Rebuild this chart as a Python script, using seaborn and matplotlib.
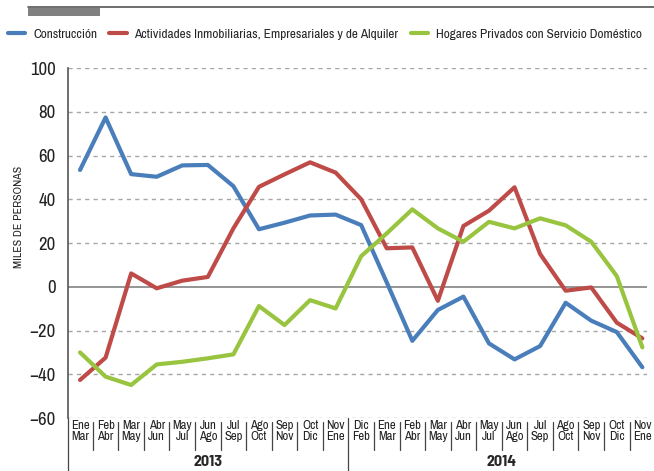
import numpy as np
import pandas as pd
import matplotlib
matplotlib.use('Agg')
import matplotlib.pyplot as plt
import matplotlib.transforms as mtransforms
import seaborn as sns

# Periods (moving quarters) and series values, thousands of people
periodo_ini = ['Ene', 'Feb', 'Mar', 'Abr', 'May', 'Jun', 'Jul', 'Ago', 'Sep', 'Oct', 'Nov',
               'Dic', 'Ene', 'Feb', 'Mar', 'Abr', 'May', 'Jun', 'Jul', 'Ago', 'Sep', 'Oct', 'Nov']
periodo_fin = ['Mar', 'Abr', 'May', 'Jun', 'Jul', 'Ago', 'Sep', 'Oct', 'Nov', 'Dic', 'Ene',
               'Feb', 'Mar', 'Abr', 'May', 'Jun', 'Jul', 'Ago', 'Sep', 'Oct', 'Nov', 'Dic', 'Ene']
anios = ['2013', '2014']
n_2013 = 11

construccion = [53.4, 77.4, 51.5, 50.3, 55.5, 55.7, 46.0, 26.3, 29.3, 32.6, 33.0,
                28.2, 2.0, -24.7, -10.6, -4.5, -25.9, -33.2, -27.1, -7.3, -15.5, -20.7, -36.8]
inmobiliarias = [-42.6, -32.4, 6.1, -0.7, 2.8, 4.5, 26.7, 45.7, 51.4, 56.9, 52.2,
                 40.0, 17.6, 18.0, -6.4, 27.8, 34.8, 45.5, 15.0, -1.8, -0.3, -16.4, -23.6]
hogares = [-30.0, -41.1, -44.9, -35.5, -34.3, -32.7, -30.9, -8.8, -17.5, -6.1, -9.9,
           14.0, 24.4, 35.4, 26.7, 20.6, 29.7, 26.7, 31.3, 28.1, 20.6, 4.9, -27.7]

series = ['Construcción',
          'Actividades Inmobiliarias, Empresariales y de Alquiler',
          'Hogares Privados con Servicio Doméstico']
colores = ['#4A7EBB', '#BE4B48', '#98C43F']

n = len(periodo_ini)
df = pd.DataFrame({
    'x': list(range(n)) * 3,
    'valor': construccion + inmobiliarias + hogares,
    'serie': [series[0]] * n + [series[1]] * n + [series[2]] * n,
})

sns.set_style('white')
plt.rcParams['font.family'] = ['Archivo Narrow', 'DejaVu Sans']

fig = plt.figure(figsize=(6.54, 4.71), dpi=100)
ax = fig.add_axes([0.104, 0.1125, 0.886, 0.743])

sns.lineplot(data=df, x='x', y='valor', hue='serie', palette=colores,
             linewidth=3, ax=ax, legend=False, zorder=3)

ax.set_xlim(-0.47, 22.2)
ax.set_ylim(-60, 100)
ax.set_yticks(np.arange(-60, 101, 20))
ax.tick_params(axis='y', labelsize=13.5, length=0, pad=9, colors='#222222')
ax.set_xticks([])
ax.set_xlabel('')
ax.set_ylabel('')
fig.text(0.029, 0.54, 'MILES DE PERSONAS', rotation=90, ha='center', va='center',
         fontsize=8.5, color='#222222')

for y in np.arange(-60, 101, 20):
    if y == 0:
        ax.axhline(0, color='#8c8c8c', linewidth=1.3, zorder=2)
    else:
        ax.axhline(y, color='#a6a6a6', linewidth=1, linestyle=(0, (3, 3)), zorder=1)

for s in ['top', 'right', 'bottom']:
    ax.spines[s].set_visible(False)
ax.spines['left'].set_color('#555555')
ax.spines['left'].set_linewidth(1.2)

# Category labels with separators
trans = mtransforms.blended_transform_factory(ax.transData, ax.transAxes)
for i in range(n):
    ax.text(i, -0.006, periodo_ini[i] + '\n' + periodo_fin[i], transform=trans,
            ha='center', va='top', fontsize=9.2, linespacing=0.95, color='#222222')
for i in range(n - 1):
    xs = i + 0.5
    if i == n_2013 - 1:
        ax.plot([xs, xs], [0, -0.155], transform=trans, color='#444444',
                linewidth=0.9, clip_on=False)
    else:
        ax.plot([xs, xs], [-0.012, -0.09], transform=trans, color='#444444',
                linewidth=0.9, clip_on=False)
ax.plot([-0.47, -0.47], [0, -0.155], transform=trans, color='#444444',
        linewidth=0.9, clip_on=False)

for k, (a, b) in enumerate([(0, n_2013 - 1), (n_2013, n - 1)]):
    ax.text((a + b) / 2, -0.106, anios[k], transform=trans, ha='center', va='top',
            fontsize=11.5, fontweight='bold', family='Barlow Semi Condensed')

# Legend at top
handles = [plt.Line2D([], [], color=c, linewidth=3) for c in colores]
fig.legend(handles, series, loc='center left', bbox_to_anchor=(0.012, 0.928), ncol=3,
           frameon=False, fontsize=9.6, handlelength=1.3, handletextpad=0.6,
           columnspacing=0.9, borderpad=0, borderaxespad=0)

# Header decoration
fig.add_artist(plt.Line2D([0.043, 1.0], [0.985, 0.985], color='#555555', linewidth=1.2))
fig.add_artist(plt.Rectangle((0.043, 0.965), 0.11, 0.019, color='#808080', linewidth=0))

fig.savefig('out.png', dpi=100)
